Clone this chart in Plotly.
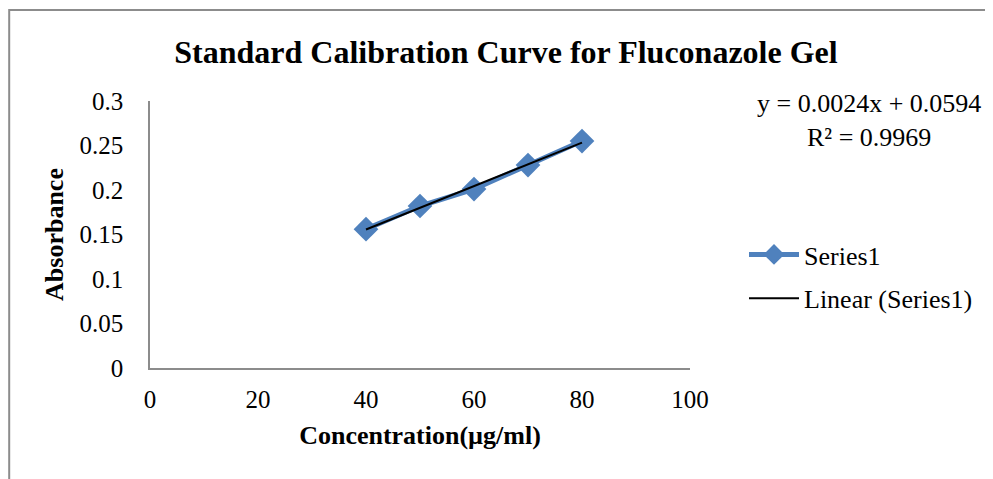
import numpy as np
import plotly.graph_objects as go

concentration = [40, 50, 60, 70, 80]
absorbance = [0.156, 0.182, 0.201, 0.228, 0.255]
x_ticks = [0, 20, 40, 60, 80, 100]
y_ticks = [0, 0.05, 0.1, 0.15, 0.2, 0.25, 0.3]
y_tick_text = ["0", "0.05", "0.1", "0.15", "0.2", "0.25", "0.3"]
equation_text = "y = 0.0024x + 0.0594<br>R² = 0.9969"

slope, intercept = np.polyfit(concentration, absorbance, 1)
trend_x = [concentration[0], concentration[-1]]
trend_y = [slope * v + intercept for v in trend_x]

FONT = "Liberation Serif"
OFF = 8  # page body margin
W, H = 993 - OFF, 479 - OFF
# target plot area in screen pixels: x 150..690, y 101..368
L = 150 - OFF
T = 101 - OFF
R = W - (690 - OFF)
B = H - (368 - OFF)

pw = W - L - R
ph = H - T - B
def px_x(p):
    return (p - OFF - L) / pw
def px_y(p):
    return (H - B - (p - OFF)) / ph

fig = go.Figure()
fig.add_trace(go.Scatter(
    x=concentration, y=absorbance, mode="lines+markers", name="Series1",
    line=dict(color="#4F81BD", width=5),
    marker=dict(symbol="diamond", size=19, color="#4F81BD"),
    legendgroup="a",
))
fig.add_trace(go.Scatter(
    x=trend_x, y=trend_y, mode="lines", name="Linear (Series1)",
    line=dict(color="black", width=2),
    legendgroup="b",
))

fig.add_shape(type="rect", xref="paper", yref="paper",
              x0=px_x(OFF + 1.2), x1=px_x(1100), y0=px_y(600), y1=px_y(10),
              line=dict(color="#8c8c8c", width=2), layer="below")

fig.add_annotation(text=equation_text, xref="paper", yref="paper",
                   x=px_x(869), y=px_y(121), showarrow=False,
                   font=dict(family=FONT, size=26, color="black"),
                   align="center", xanchor="center", yanchor="middle")

fig.update_layout(
    width=W, height=H,
    margin=dict(l=L, r=R, t=T, b=B),
    paper_bgcolor="white", plot_bgcolor="white",
    title=dict(text="<b>Standard Calibration Curve for Fluconazole Gel</b>",
               x=px_x(506), xref="paper", xanchor="center",
               y=1 - (52 - OFF) / H, yanchor="middle",
               font=dict(family=FONT, size=32, color="black")),
    font=dict(family=FONT, color="black"),
    xaxis=dict(range=[0, 100], tickvals=x_ticks, showgrid=False, zeroline=False,
               showline=True, linecolor="#8c8c8c", linewidth=1.5,
               ticks="", tickfont=dict(size=25, family=FONT), ticklabelstandoff=8,
               title=dict(text="<b>Concentration(µg/ml)</b>", standoff=14,
                          font=dict(size=26, family=FONT))),
    yaxis=dict(range=[0, 0.3], tickvals=y_ticks, ticktext=y_tick_text,
               showgrid=False, zeroline=False,
               showline=True, linecolor="#8c8c8c", linewidth=1.5,
               ticks="", tickfont=dict(size=25, family=FONT), ticklabelstandoff=20,
               title=dict(text="<b>Absorbance</b>", standoff=8,
                          font=dict(size=26, family=FONT))),
    legend=dict(x=px_x(744), y=px_y(231), xanchor="left", yanchor="top",
                font=dict(family=FONT, size=26, color="black"),
                traceorder="grouped", tracegroupgap=7,
                bgcolor="rgba(0,0,0,0)", itemwidth=50),
    showlegend=True,
)

fig.write_html("out.html")
